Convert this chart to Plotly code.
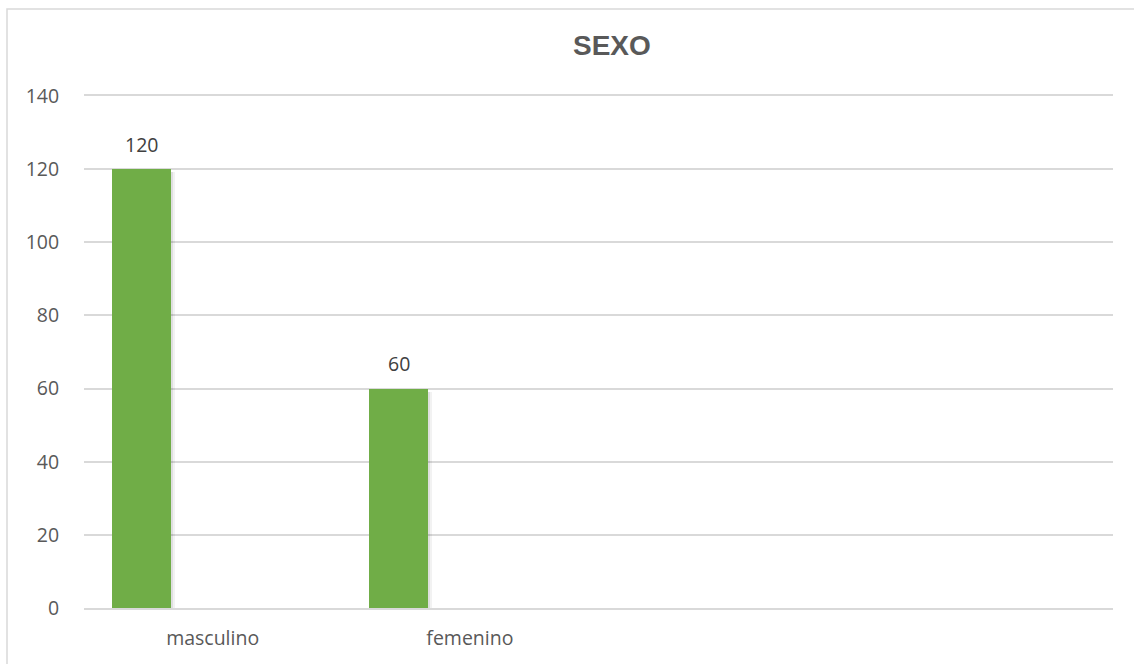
import plotly.graph_objects as go

# Chart data
categories = ["masculino", "femenino", " ", "  "]
counts = [120, 60, None, None]
y_ticks = [0, 20, 40, 60, 80, 100, 120, 140]
title_text = "SEXO"

W, H = 1134, 664
L, R, T, B = 84, 21, 96, 56
plot_w = W - L - R
plot_h = H - T - B

BAR_W = 0.229
BAR_OFF = -0.391
GREEN = "#70AD47"
GRID = "#d9d9d9"
TXT = "#595959"
FONT = "Open Sans"
FS = 19.5

fig = go.Figure()

# soft drop shadow behind the bars
for dx, alpha in [(0.014, 0.05), (0.007, 0.08)]:
    fig.add_trace(go.Bar(
        x=categories, y=counts, base=-0.8,
        width=BAR_W + dx, offset=BAR_OFF,
        marker=dict(color=f"rgba(0,0,0,{alpha})", line=dict(width=0)),
        hoverinfo="skip", showlegend=False,
    ))

fig.add_trace(go.Bar(
    x=categories, y=counts,
    width=BAR_W, offset=BAR_OFF,
    marker=dict(color=GREEN, line=dict(width=0)),
    showlegend=False,
))

# value labels above each bar
for i, (cat, val) in enumerate(zip(categories, counts)):
    if val is None:
        continue
    fig.add_annotation(
        x=i + BAR_OFF + BAR_W / 2, y=val, xref="x", yref="y",
        text=str(val), showarrow=False, yanchor="middle", yshift=25,
        font=dict(family=FONT, size=FS, color="#404040"),
    )

# chart title
fig.add_annotation(
    x=(612 - L) / plot_w, y=(H - B - 45) / plot_h, xref="paper", yref="paper",
    text="<b>" + title_text + "</b>", showarrow=False,
    xanchor="center", yanchor="middle",
    font=dict(family="Liberation Sans", size=28, color=TXT),
)

# outer chart-area border
fig.add_shape(
    type="rect", xref="paper", yref="paper",
    x0=(7 - L) / plot_w, x1=(W + 5 - L) / plot_w,
    y0=-(B + 10) / plot_h, y1=(H - B - 9) / plot_h,
    line=dict(color=GRID, width=1.5), fillcolor="rgba(0,0,0,0)", layer="below",
)

fig.update_layout(
    width=W, height=H,
    margin=dict(l=L, r=R, t=T, b=B, pad=0),
    paper_bgcolor="white", plot_bgcolor="white",
    barmode="overlay", bargap=0,
    font=dict(family=FONT, size=FS, color=TXT),
)

# x-axis line mirrored to the top so the 140 gridline shows
fig.update_xaxes(
    type="category", categoryorder="array", categoryarray=categories,
    range=[-0.5, len(categories) - 0.5],
    showgrid=False, zeroline=False,
    showline=True, linecolor=GRID, linewidth=1.5, mirror=True,
    ticks="outside", ticklen=12, tickcolor="rgba(0,0,0,0)",
    tickfont=dict(family=FONT, size=FS, color=TXT),
    fixedrange=True,
)

fig.update_yaxes(
    range=[0, 140], tickvals=y_ticks,
    showgrid=True, gridcolor=GRID, gridwidth=1.5,
    zeroline=False, showline=False,
    ticks="outside", ticklen=20, tickcolor="rgba(0,0,0,0)",
    tickfont=dict(family=FONT, size=FS, color=TXT),
    fixedrange=True,
)

fig.write_html("out.html")
